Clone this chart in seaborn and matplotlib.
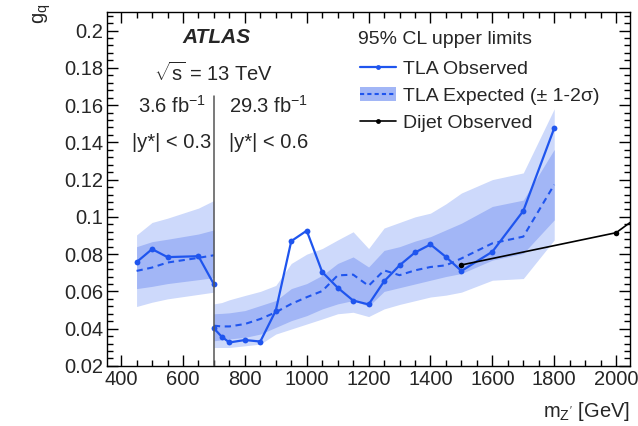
import numpy as np
import pandas as pd
import matplotlib
matplotlib.use("Agg")
import matplotlib.pyplot as plt
import seaborn as sns
from matplotlib.lines import Line2D
from matplotlib.patches import Patch
from matplotlib.ticker import MultipleLocator

# ---------------- data ----------------
mass_left = [450, 500, 550, 650, 700]
obs_left = [0.0757, 0.0827, 0.0784, 0.0789, 0.0638]
exp_left = [0.0710, 0.0728, 0.0755, 0.0780, 0.0794]
one_up_left = [0.0840, 0.0867, 0.0880, 0.0908, 0.0930]
one_dn_left = [0.0615, 0.0627, 0.0642, 0.0663, 0.0674]
two_up_left = [0.0903, 0.0970, 0.0993, 0.1047, 0.1088]
two_dn_left = [0.0519, 0.0542, 0.0560, 0.0584, 0.0596]

mass_right = [700, 725, 750, 800, 850, 900, 950, 1000, 1050, 1100, 1150,
              1200, 1250, 1300, 1350, 1400, 1450, 1500, 1600, 1700, 1800]
obs_right = [0.0402, 0.0357, 0.0326, 0.0339, 0.0331, 0.0497, 0.0870, 0.0926,
             0.0704, 0.0620, 0.0551, 0.0530, 0.0654, 0.0740, 0.0809, 0.0852,
             0.0785, 0.0710, 0.0813, 0.1032, 0.1476]
exp_right = [0.0416, 0.0412, 0.0412, 0.0425, 0.0452, 0.0488, 0.0533, 0.0569,
             0.0602, 0.0686, 0.0690, 0.0630, 0.0713, 0.0687, 0.0713, 0.0731,
             0.0740, 0.0777, 0.0858, 0.0894, 0.1173]
one_up_right = [0.0480, 0.0482, 0.0485, 0.0497, 0.0524, 0.0551, 0.0615, 0.0642,
                0.0686, 0.0750, 0.0785, 0.0731, 0.0820, 0.0840, 0.0870, 0.0894,
                0.0930, 0.0966, 0.1056, 0.1090, 0.1362]
one_dn_right = [0.0335, 0.0340, 0.0345, 0.0353, 0.0371, 0.0407, 0.0443, 0.0470,
                0.0506, 0.0533, 0.0551, 0.0520, 0.0600, 0.0620, 0.0640, 0.0660,
                0.0680, 0.0696, 0.0768, 0.0804, 0.0984]
two_up_right = [0.0533, 0.0540, 0.0555, 0.0578, 0.0600, 0.0632, 0.0750, 0.0800,
                0.0830, 0.0876, 0.0920, 0.0830, 0.0940, 0.0970, 0.1000, 0.1020,
                0.1070, 0.1128, 0.1200, 0.1236, 0.1580]
two_dn_right = [0.0299, 0.0299, 0.0299, 0.0308, 0.0317, 0.0371, 0.0398, 0.0425,
                0.0452, 0.0480, 0.0488, 0.0465, 0.0506, 0.0530, 0.0550, 0.0570,
                0.0580, 0.0596, 0.0660, 0.0669, 0.0876]

mass_dijet = [1500, 2000, 2100]
obs_dijet = [0.0742, 0.0915, 0.1036]

# ---------------- style ----------------
sns.set_theme(style="ticks")
plt.rcParams["font.family"] = ["Liberation Sans", "DejaVu Sans"]
plt.rcParams["mathtext.fontset"] = "custom"
plt.rcParams["mathtext.rm"] = "Liberation Sans"
plt.rcParams["mathtext.it"] = "Liberation Sans"
plt.rcParams["mathtext.bf"] = "Liberation Sans:bold"
plt.rcParams["axes.edgecolor"] = "black"
plt.rcParams["axes.linewidth"] = 1.0

BLUE = "#1f55ee"
DARK = "#a2b6f6"
LIGHT = "#cdd9fb"
FS = 14.5

fig = plt.figure(figsize=(6.38, 4.26), dpi=100)
ax = fig.add_axes([0.168, 0.141, 0.8195, 0.831])

for m, up2, dn2, up1, dn1 in [
    (mass_left, two_up_left, two_dn_left, one_up_left, one_dn_left),
    (mass_right, two_up_right, two_dn_right, one_up_right, one_dn_right),
]:
    ax.fill_between(m, dn2, up2, color=LIGHT, lw=0, zorder=1)
    ax.fill_between(m, dn1, up1, color=DARK, lw=0, zorder=2)

df_exp = pd.concat([
    pd.DataFrame({"m": mass_left, "g": exp_left, "seg": "L"}),
    pd.DataFrame({"m": mass_right, "g": exp_right, "seg": "R"}),
])
df_obs = pd.concat([
    pd.DataFrame({"m": mass_left, "g": obs_left, "seg": "L"}),
    pd.DataFrame({"m": mass_right, "g": obs_right, "seg": "R"}),
])
df_dij = pd.DataFrame({"m": mass_dijet, "g": obs_dijet})

sns.lineplot(data=df_exp, x="m", y="g", units="seg", estimator=None, ax=ax,
             color=BLUE, lw=1.5, linestyle=(0, (3, 2.2)), zorder=3, legend=False)
sns.lineplot(data=df_obs, x="m", y="g", units="seg", estimator=None, ax=ax,
             color=BLUE, lw=1.6, marker="o", markersize=4.2, markeredgewidth=0,
             zorder=4, legend=False)
sns.lineplot(data=df_dij, x="m", y="g", ax=ax, color="black", lw=1.2,
             marker="o", markersize=4, markeredgewidth=0, zorder=5, legend=False)

ax.axvline(700, ymin=0, ymax=(0.165 - 0.02) / 0.19, color="#555555", lw=1.1, zorder=6)

ax.set_xlim(355, 2045)
ax.set_ylim(0.02, 0.21)
ax.xaxis.set_major_locator(MultipleLocator(200))
ax.xaxis.set_minor_locator(MultipleLocator(50))
ax.yaxis.set_minor_locator(MultipleLocator(0.004))
ax.set_yticks([0.02, 0.04, 0.06, 0.08, 0.1, 0.12, 0.14, 0.16, 0.18, 0.2])
ax.set_yticklabels(["0.02", "0.04", "0.06", "0.08", "0.1", "0.12", "0.14",
                    "0.16", "0.18", "0.2"])
ax.tick_params(which="both", direction="in", top=True, right=True,
               labelsize=FS, color="black", width=1, pad=3)
ax.tick_params(which="major", length=8)
ax.tick_params(which="minor", length=4)
ax.set_ylim(0.02, 0.21)
ax.set_xlim(355, 2045)

ax.set_xlabel(r"m$_{Z'}$ [GeV]", fontsize=FS, loc="right")
ax.xaxis.set_label_coords(1.0, -0.095)
ax.set_ylabel(r"g$_{q}$", fontsize=FS, loc="top")
ax.yaxis.set_label_coords(-0.104, 1.025)

ax.text(0.210, 0.929, "ATLAS", transform=ax.transAxes, fontsize=15,
        fontweight="bold", fontstyle="italic", ha="center", va="center")
ax.text(0.203, 0.828, r"$\sqrt{\mathrm{s}}$ = 13 TeV", transform=ax.transAxes,
        fontsize=FS, ha="center", va="center")
ax.text(0.124, 0.734, r"3.6 fb$^{-1}$", transform=ax.transAxes, fontsize=FS,
        ha="center", va="center")
ax.text(0.124, 0.630, r"|y*| < 0.3", transform=ax.transAxes, fontsize=FS,
        ha="center", va="center")
ax.text(0.308, 0.734, r"29.3 fb$^{-1}$", transform=ax.transAxes, fontsize=FS,
        ha="center", va="center")
ax.text(0.308, 0.630, r"|y*| < 0.6", transform=ax.transAxes, fontsize=FS,
        ha="center", va="center")

ax.text(0.480, 0.921, "95% CL upper limits", transform=ax.transAxes,
        fontsize=14, ha="left", va="center")

handles = [
    Line2D([], [], color=BLUE, lw=1.6, marker="o", markersize=3.5, markeredgewidth=0),
    (Patch(facecolor=DARK, edgecolor="none"),
     Line2D([], [], color=BLUE, lw=1.5, linestyle=(0, (2, 1.5)))),
    Line2D([], [], color="black", lw=1.2, marker="o", markersize=3.5, markeredgewidth=0),
]
labels = ["TLA Observed", "TLA Expected (\u00b1 1-2\u03c3)", "Dijet Observed"]
leg = ax.legend(handles, labels, loc="upper left",
                bbox_to_anchor=(0.457, 0.901), frameon=False, fontsize=14,
                handlelength=1.85, handletextpad=0.4,
                labelspacing=0.47, borderpad=0.2)

fig.savefig("out.png", dpi=100)
